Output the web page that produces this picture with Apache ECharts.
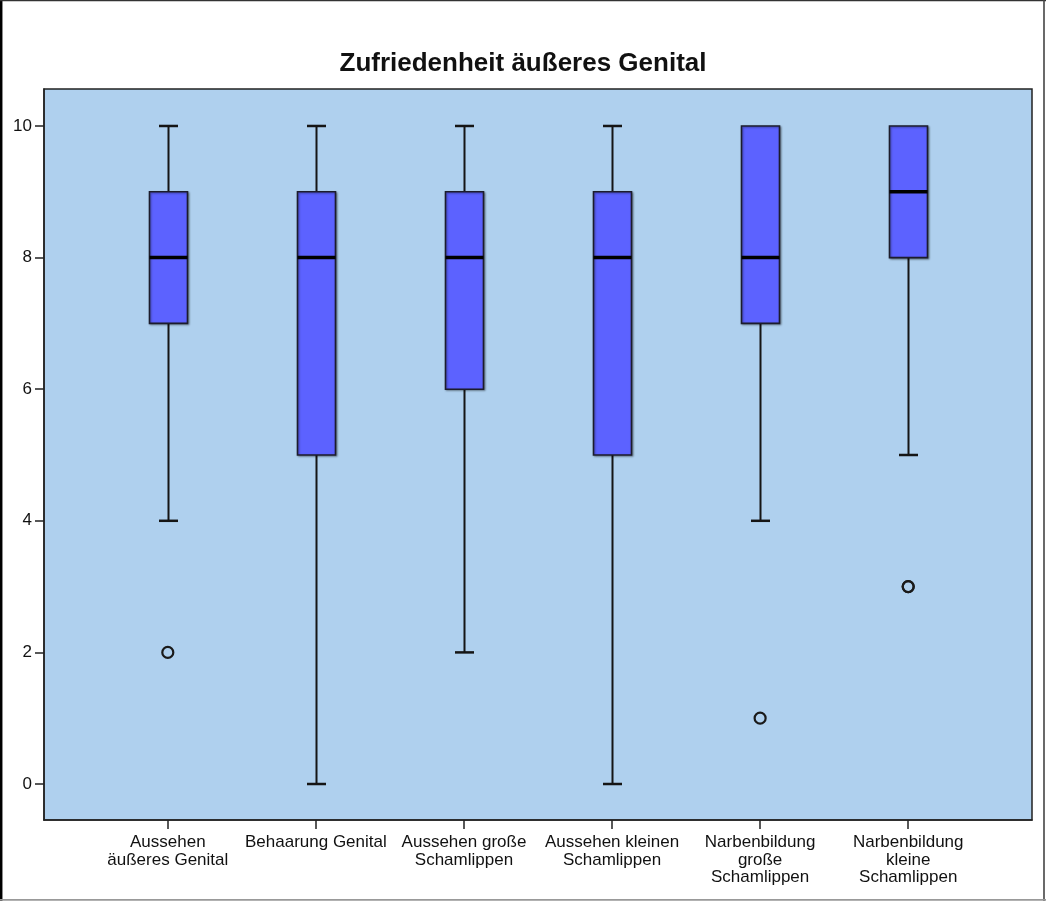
<!DOCTYPE html>
<html>
<head>
<meta charset="utf-8">
<script src="https://cdn.jsdelivr.net/npm/echarts@6/dist/echarts.min.js"></script>
<style>
html,body{margin:0;padding:0;background:#fff;}
#chart{width:1046px;height:901px;}
</style>
</head>
<body>
<div id="chart"></div>
<script>
const titleText = 'Zufriedenheit äußeres Genital';
const categories = [
  'Aussehen\näußeres Genital',
  'Behaarung Genital',
  'Aussehen große\nSchamlippen',
  'Aussehen kleinen\nSchamlippen',
  'Narbenbildung\ngroße\nSchamlippen',
  'Narbenbildung\nkleine\nSchamlippen'
];
const whiskerLow  = [4, 0, 2, 0, 4, 5];
const q1Values    = [7, 5, 6, 5, 7, 8];
const medians     = [8, 8, 8, 8, 8, 9];
const q3Values    = [9, 9, 9, 9, 10, 10];
const whiskerHigh = [10, 10, 10, 10, 10, 10];
const outliers = [[0, 2], [4, 1], [5, 3], [5, 3]];
const yTicks = [0, 2, 4, 6, 8, 10];

const catIdx = categories.map((c, i) => i);
const boxData = categories.map((c, i) => [i, whiskerLow[i], q1Values[i], medians[i], q3Values[i], whiskerHigh[i]]);

const chart = echarts.init(document.getElementById('chart'), null, {renderer: 'canvas'});

const FONT = 'Liberation Sans, Arial, sans-serif';
const BOXW = 38, CAPW = 19;
const lineCol = '#151515';

function renderBox(params, api) {
  const x = api.value(0);
  const vLo = api.value(1), vQ1 = api.value(2), vQ3 = api.value(4), vHi = api.value(5);
  const lo = api.coord([x, vLo]);
  const q1 = api.coord([x, vQ1]);
  const md = api.coord([x, api.value(3)]);
  const q3 = api.coord([x, vQ3]);
  const hi = api.coord([x, vHi]);
  const cx = Math.round(lo[0]) + 0.5;
  const h = BOXW / 2, c = CAPW / 2;
  const children = [];
  if (vLo < vQ1) {
    children.push({type: 'line', shape: {x1: cx, y1: q1[1], x2: cx, y2: lo[1]}, style: {stroke: lineCol, lineWidth: 2}});
    children.push({type: 'line', shape: {x1: cx - c, y1: lo[1], x2: cx + c, y2: lo[1]}, style: {stroke: lineCol, lineWidth: 2.5}});
  }
  if (vHi > vQ3) {
    children.push({type: 'line', shape: {x1: cx, y1: q3[1], x2: cx, y2: hi[1]}, style: {stroke: lineCol, lineWidth: 2}});
    children.push({type: 'line', shape: {x1: cx - c, y1: hi[1], x2: cx + c, y2: hi[1]}, style: {stroke: lineCol, lineWidth: 2.5}});
  }
  children.push({type: 'rect', shape: {x: cx - h, y: q3[1], width: BOXW, height: q1[1] - q3[1]},
    style: {fill: '#5C62FF', stroke: '#1c1c2c', lineWidth: 1.6, shadowBlur: 2, shadowColor: 'rgba(0,0,0,0.35)', shadowOffsetX: 1, shadowOffsetY: 1}});
  children.push({type: 'line', shape: {x1: cx - h, y1: md[1], x2: cx + h, y2: md[1]}, style: {stroke: '#000', lineWidth: 3.5}});
  return {type: 'group', children};
}

const option = {
  backgroundColor: '#ffffff',
  animation: false,
  title: {
    text: titleText,
    left: 'center',
    top: 46,
    textStyle: {fontFamily: FONT, fontSize: 26, fontWeight: 'bold', color: '#111'}
  },
  grid: {
    show: true,
    left: 44, top: 89, right: 14, bottom: 81,
    backgroundColor: '#AFD0EE',
    borderColor: '#222',
    borderWidth: 1.5
  },
  xAxis: {
    type: 'value',
    min: -0.836,
    max: 5.836,
    splitLine: {show: false},
    axisLine: {show: true, onZero: false, lineStyle: {color: '#222', width: 1.5}},
    axisTick: {show: true, length: 9, customValues: catIdx, lineStyle: {color: '#222', width: 1.5}},
    axisLabel: {
      customValues: catIdx,
      formatter: v => categories[Math.round(v)],
      fontFamily: FONT, fontSize: 17, lineHeight: 17.5, color: '#111', margin: 14
    }
  },
  yAxis: {
    type: 'value',
    min: -0.547,
    max: 10.562,
    splitLine: {show: false},
    axisLine: {show: true, onZero: false, lineStyle: {color: '#222', width: 1.5}},
    axisTick: {show: true, length: 9, customValues: yTicks, lineStyle: {color: '#222', width: 1.5}},
    axisLabel: {customValues: yTicks, fontFamily: FONT, fontSize: 17, color: '#111', margin: 12}
  },
  series: [
    {
      type: 'custom',
      renderItem: renderBox,
      data: boxData,
      encode: {x: 0, y: [1, 2, 3, 4, 5]},
      clip: false
    },
    {
      type: 'scatter',
      data: outliers,
      symbol: 'circle',
      symbolSize: 11,
      itemStyle: {color: 'rgba(0,0,0,0)', borderColor: '#1a1a1a', borderWidth: 2.2, opacity: 1}
    }
  ],
  graphic: [
    {type: 'line', shape: {x1: 1.2, y1: 0, x2: 1.2, y2: 901}, style: {stroke: '#000', lineWidth: 2.5}, z: 100},
    {type: 'line', shape: {x1: 0, y1: 0.6, x2: 1046, y2: 0.6}, style: {stroke: '#333', lineWidth: 1.3}, z: 100},
    {type: 'line', shape: {x1: 1044, y1: 0, x2: 1044, y2: 901}, style: {stroke: '#444', lineWidth: 1.6}, z: 100},
    {type: 'line', shape: {x1: 0, y1: 899.8, x2: 1046, y2: 899.8}, style: {stroke: '#999', lineWidth: 1.8}, z: 100}
  ]
};
chart.setOption(option);
</script>
</body>
</html>
